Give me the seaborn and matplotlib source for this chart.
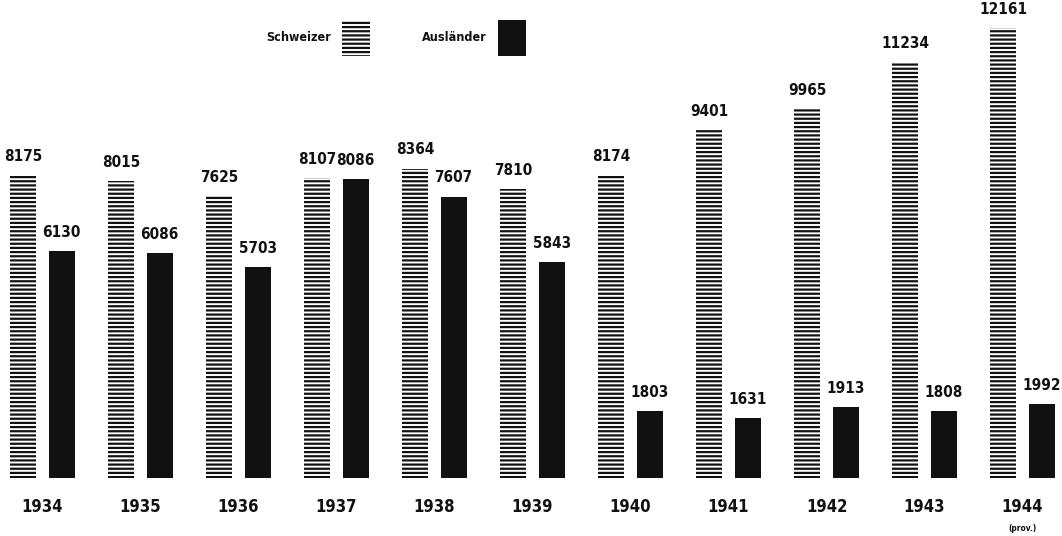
import matplotlib
matplotlib.use("Agg")
import matplotlib.pyplot as plt
import seaborn as sns
import pandas as pd
from matplotlib.patches import Patch

years = ["1934", "1935", "1936", "1937", "1938", "1939", "1940", "1941", "1942", "1943", "1944"]
schweizer = [8175, 8015, 7625, 8107, 8364, 7810, 8174, 9401, 9965, 11234, 12161]
auslaender = [6130, 6086, 5703, 8086, 7607, 5843, 1803, 1631, 1913, 1808, 1992]
groups = ["Schweizer", "Ausländer"]

df = pd.DataFrame({
    "Jahr": years * 2,
    "Gruppe": [groups[0]] * len(years) + [groups[1]] * len(years),
    "Wert": schweizer + auslaender,
})

sns.set_theme(style="white")
plt.rcParams["font.family"] = ["DejaVu Sans"]
plt.rcParams["font.stretch"] = "condensed"
plt.rcParams["hatch.linewidth"] = 1.6

fig = plt.figure(figsize=(10.62, 5.36), dpi=100)
ax = fig.add_axes([0.0, 0.108, 1.0, 0.892])

sns.barplot(data=df, x="Jahr", y="Wert", hue="Gruppe", hue_order=groups,
            palette={"Schweizer": "white", "Ausländer": "#111111"},
            width=0.78, gap=0.32, ax=ax, legend=False, saturation=1)

ink = "#111111"
sw_bars, au_bars = ax.containers[0], ax.containers[1]
for p in sw_bars:
    p.set_facecolor("white")
    p.set_edgecolor(ink)
    p.set_linewidth(0)
    p.set_hatch("----")
for p in au_bars:
    p.set_edgecolor(ink)
    p.set_linewidth(0)

lab_font = dict(fontsize=11, color=ink, fontweight="bold", fontstretch="condensed")
ax.bar_label(sw_bars, labels=[str(v) for v in schweizer], padding=8, **lab_font)
ax.bar_label(au_bars, labels=[str(v) for v in auslaender], padding=8, **lab_font)

ax.set_xlim(-0.434, 10.403)
ax.set_ylim(0, 478 / 0.037)
ax.set_xlabel("")
ax.set_ylabel("")
ax.set_yticks([])
ax.tick_params(axis="x", length=0, pad=14, labelsize=12, colors=ink)
for lbl in ax.get_xticklabels():
    lbl.set_fontstretch("condensed")
    lbl.set_fontweight("bold")
for s in ax.spines.values():
    s.set_visible(False)

ax.text(10, -0.105, "(prov.)", transform=ax.get_xaxis_transform(),
        ha="center", va="center", fontsize=6, color=ink, fontweight="bold",
        fontstretch="condensed")

# legend: text first, swatch after
handles = [Patch(facecolor="white", edgecolor=ink, linewidth=0, hatch="----"),
           Patch(facecolor=ink, edgecolor=ink, linewidth=0)]
leg = fig.legend(handles, groups, loc="center", bbox_to_anchor=(0.373, 0.929),
                 ncol=2, markerfirst=False, frameon=False,
                 handlelength=2.2, handleheight=4.0, handletextpad=0.9,
                 columnspacing=4.2,
                 prop={"weight": "bold", "size": 9, "stretch": "condensed"})
for t in leg.get_texts():
    t.set_color(ink)

fig.savefig("out.png", dpi=100, facecolor="white")
